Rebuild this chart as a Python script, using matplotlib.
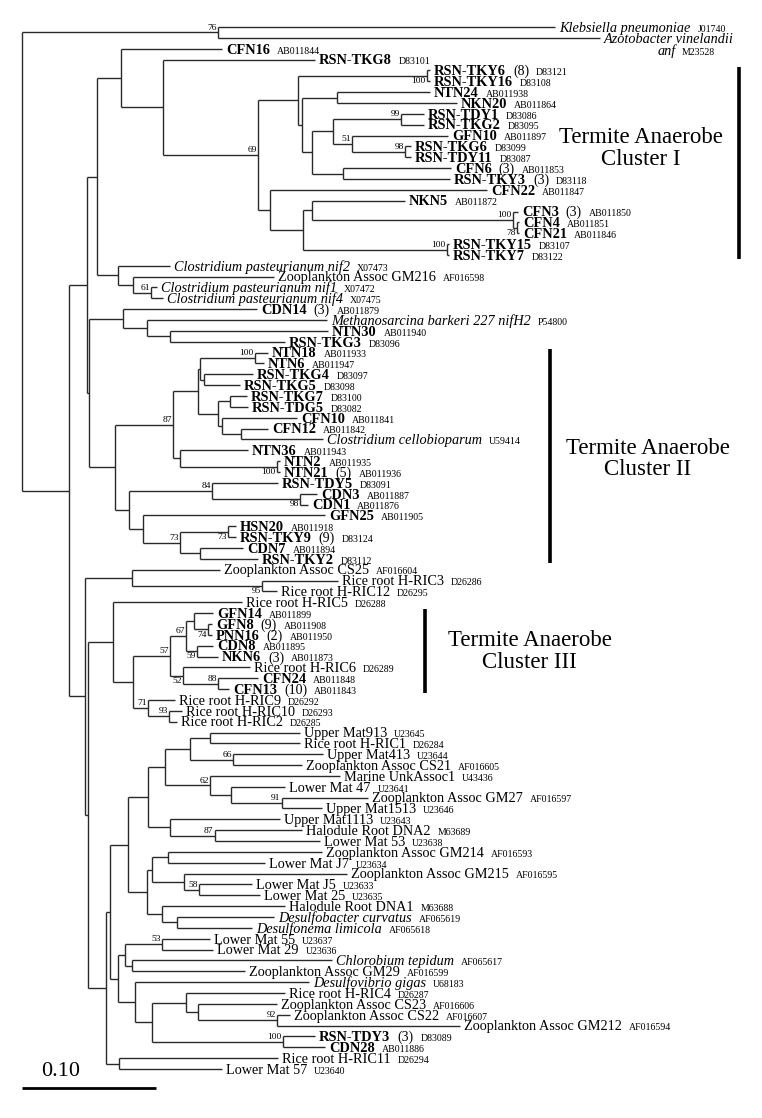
import matplotlib.pyplot as plt
from matplotlib.transforms import IdentityTransform

plt.rcParams['font.family'] = ['Liberation Serif', 'DejaVu Serif']

# ---------------- leaves (top to bottom) ----------------
leaf_names = [
    "Klebsiella pneumoniae", "Azotobacter vinelandii|anf", "CFN16", "RSN-TKG8",
    "RSN-TKY6", "RSN-TKY16", "NTN24", "NKN20", "RSN-TDY1", "RSN-TKG2", "GFN10",
    "RSN-TKG6", "RSN-TDY11", "CFN6", "RSN-TKY3", "CFN22", "NKN5", "CFN3", "CFN4",
    "CFN21", "RSN-TKY15", "RSN-TKY7", "Clostridium pasteurianum nif2",
    "Zooplankton Assoc GM216", "Clostridium pasteurianum nif1",
    "Clostridium pasteurianum nif4", "CDN14", "Methanosarcina barkeri 227 nifH2",
    "NTN30", "RSN-TKG3", "NTN18", "NTN6", "RSN-TKG4", "RSN-TKG5", "RSN-TKG7",
    "RSN-TDG5", "CFN10", "CFN12", "Clostridium cellobioparum", "NTN36", "NTN2",
    "NTN21", "RSN-TDY5", "CDN3", "CDN1", "GFN25", "HSN20", "RSN-TKY9", "CDN7",
    "RSN-TKY2", "Zooplankton Assoc CS25", "Rice root H-RIC3", "Rice root H-RIC12",
    "Rice root H-RIC5", "GFN14", "GFN8", "PNN16", "CDN8", "NKN6", "Rice root H-RIC6",
    "CFN24", "CFN13", "Rice root H-RIC9", "Rice root H-RIC10", "Rice root H-RIC2",
    "Upper Mat913", "Rice root H-RIC1", "Upper Mat413", "Zooplankton Assoc CS21",
    "Marine UnkAssoc1", "Lower Mat 47", "Zooplankton Assoc GM27", "Upper Mat1513",
    "Upper Mat1113", "Halodule Root DNA2", "Lower Mat 53", "Zooplankton Assoc GM214",
    "Lower Mat J7", "Zooplankton Assoc GM215", "Lower Mat J5", "Lower Mat 25",
    "Halodule Root DNA1", "Desulfobacter curvatus", "Desulfonema limicola",
    "Lower Mat 55", "Lower Mat 29", "Chlorobium tepidum", "Zooplankton Assoc GM29",
    "Desulfovibrio gigas", "Rice root H-RIC4", "Zooplankton Assoc CS23",
    "Zooplankton Assoc CS22", "Zooplankton Assoc GM212", "RSN-TDY3", "CDN28",
    "Rice root H-RIC11", "Lower Mat 57",
]
# b = bold clone, r = roman, i = italic species
leaf_kind = list(
    "iibb" "bbbbbbbbbbbbbbbbbb" "irii" "bibb" "bbbbbbbbi" "bbbbbbbbbbb"
    "rrrr" "bbbbb" "r" "bb" "rrr" "rrrrrrrrrrrrrrrrr" "iirririrrrr" "bb" "rr"
)
leaf_count = [
    "", "", "", "", "(8)", "", "", "", "", "", "", "", "", "(3)", "(3)", "", "",
    "(3)", "", "", "", "", "", "", "", "", "(3)", "", "", "", "", "", "", "", "",
    "", "", "", "", "", "", "(5)", "", "", "", "", "", "(9)", "", "", "", "", "",
    "", "", "(9)", "(2)", "", "(3)", "", "", "(10)", "", "", "", "", "", "", "",
    "", "", "", "", "", "", "", "", "", "", "", "", "", "", "", "", "", "", "",
    "", "", "", "", "", "(3)", "", "", "",
]
leaf_acc = [
    "J01740", "M23528", "AB011844", "D83101", "D83121", "D83108", "AB011938",
    "AB011864", "D83086", "D83095", "AB011897", "D83099", "D83087", "AB011853",
    "D83118", "AB011847", "AB011872", "AB011850", "AB011851", "AB011846", "D83107",
    "D83122", "X07473", "AF016598", "X07472", "X07475", "AB011879", "P54800",
    "AB011940", "D83096", "AB011933", "AB011947", "D83097", "D83098", "D83100",
    "D83082", "AB011841", "AB011842", "U59414", "AB011943", "AB011935", "AB011936",
    "D83091", "AB011887", "AB011876", "AB011905", "AB011918", "D83124", "AB011894",
    "D83112", "AF016604", "D26286", "D26295", "D26288", "AB011899", "AB011908",
    "AB011950", "AB011895", "AB011873", "D26289", "AB011848", "AB011843", "D26292",
    "D26293", "D26285", "U23645", "D26284", "U23644", "AF016605", "U43436",
    "U23641", "AF016597", "U23646", "U23643", "M63689", "U23638", "AF016593",
    "U23634", "AF016595", "U23633", "U23635", "M63688", "AF065619", "AF065618",
    "U23637", "U23636", "AF065617", "AF016599", "U68183", "D26287", "AF016606",
    "AF016607", "AF016594", "D83089", "AB011886", "D26294", "U23640",
]
leaf_parent = [
    "O", "O", "N121", "N163", "NTKY6", "NTKY6", "N337", "N337", "N401", "N401",
    "N352", "N405", "N405", "N343", "N343", "N270", "N312b", "N513", "N517", "N517",
    "N447", "N447", "N118", "N133", "N151", "N151", "N123", "N147", "N170", "N170",
    "N255", "N255", "N204", "N204", "N230", "N230", "N222", "N241", "N241", "N180",
    "N277", "N277", "N212", "N300", "N300", "N143", "N228", "N228", "N200b", "N200b",
    "N132", "N262", "N262", "N113", "N194", "N208", "N208", "N197", "N197", "N183",
    "N218b", "N218b", "N148", "N169", "N169", "N210b", "N210b", "N233", "N233",
    "N210", "N231", "N282", "N282", "N170c", "N215", "N215", "N168", "N168", "N184",
    "N199", "N199", "N162", "N177", "N177", "N162b", "N162b", "N132c", "N132c",
    "N135", "N186b", "N198b", "N277b", "N277b", "N283", "N283", "N119", "N119",
]
# distance from root (substitutions per site)
leaf_depth = [
    0.3978, 0.4313, 0.1493, 0.2187, 0.3045, 0.3045, 0.3045, 0.3246, 0.3000, 0.3000,
    0.3179, 0.2903, 0.2903, 0.3201, 0.3194, 0.3470, 0.2858, 0.3701, 0.3709, 0.3709,
    0.3187, 0.3187, 0.1104, 0.1881, 0.1007, 0.1052, 0.1754, 0.2276, 0.2284, 0.1963,
    0.1836, 0.1806, 0.1724, 0.1627, 0.1679, 0.1687, 0.2052, 0.1836, 0.2246, 0.1687,
    0.1925, 0.1925, 0.1910, 0.2201, 0.2134, 0.2261, 0.1597, 0.1597, 0.1649, 0.1761,
    0.1478, 0.2358, 0.1903, 0.1642, 0.1425, 0.1418, 0.1418, 0.1425, 0.1463, 0.1701,
    0.1761, 0.1545, 0.1142, 0.1194, 0.1157, 0.2075, 0.2075, 0.2246, 0.2090, 0.2373,
    0.1963, 0.2582, 0.2239, 0.1925, 0.2090, 0.2224, 0.2239, 0.1813, 0.2425, 0.1716,
    0.1776, 0.1963, 0.1881, 0.1716, 0.1403, 0.1425, 0.2313, 0.1664, 0.2142, 0.1963,
    0.1903, 0.2000, 0.3269, 0.2187, 0.2261, 0.1910, 0.1493,
]

# ---------------- internal nodes ----------------
node_ids = [
    "R", "O", "N69", "N87", "N97", "N121", "N163", "C1", "N298", "NTKY6", "N302",
    "N337", "N312", "N333", "N401", "N352", "N405", "N343", "N270", "N303", "N312b",
    "N513", "N517", "N447", "N118", "N133", "N151", "N89", "N123", "N147", "N170",
    "N115", "N173", "N198", "N200", "N255", "N204", "N218", "N230", "N222", "N241",
    "N180", "N277", "N129", "N212", "N300", "N143", "N180b", "N228", "N200b", "N85",
    "N132", "N262", "N88", "N113", "N133b", "N170b", "N186", "N194", "N208", "N197",
    "N183", "N218b", "N148", "N169", "N106", "N110", "N128", "N148c", "N165", "N190",
    "N210b", "N233", "N210", "N231", "N282", "N170c", "N215", "N147c", "N152",
    "N168", "N184", "N199", "N162", "N177", "N118c", "N125", "N162b", "N132c",
    "N135", "N152b", "N186b", "N198b", "N277b", "N283", "N119",
]
node_parent = [
    None, "R", "R", "N69", "N87", "N97", "N121", "N163", "C1", "N298", "N298",
    "N302", "N302", "N312", "N333", "N333", "N352", "N312", "C1", "N270", "N303",
    "N312b", "N513", "N303", "N97", "N118", "N133", "N87", "N89", "N123", "N147",
    "N89", "N115", "N173", "N198", "N200", "N200", "N198", "N218", "N218", "N222",
    "N173", "N180", "N115", "N129", "N212", "N129", "N143", "N180b", "N180b", "N69",
    "N85", "N132", "N85", "N88", "N113", "N133b", "N170b", "N186", "N194", "N186",
    "N170b", "N183", "N133b", "N148", "N88", "N106", "N110", "N128", "N148c", "N165",
    "N190", "N190", "N165", "N210", "N231", "N148c", "N170c", "N128", "N147c",
    "N152", "N152", "N184", "N147c", "N162", "N110", "N118c", "N125", "N125",
    "N118c", "N135", "N152b", "N186b", "N198b", "N152b", "N106",
]
node_depth = [
    0.0, 0.1463, 0.0351, 0.0485, 0.0560, 0.0739, 0.1052, 0.1761, 0.2060, 0.3022,
    0.2090, 0.2351, 0.2164, 0.2321, 0.2828, 0.2463, 0.2858, 0.2396, 0.1851, 0.2097,
    0.2164, 0.3664, 0.3694, 0.3172, 0.0716, 0.0828, 0.0963, 0.0500, 0.0754, 0.0933,
    0.1104, 0.0694, 0.1127, 0.1313, 0.1328, 0.1739, 0.1358, 0.1463, 0.1552, 0.1493,
    0.1634, 0.1179, 0.1903, 0.0799, 0.1418, 0.2075, 0.0903, 0.1179, 0.1537, 0.1328,
    0.0470, 0.0821, 0.1791, 0.0493, 0.0679, 0.0828, 0.1104, 0.1224, 0.1284, 0.1388,
    0.1306, 0.1201, 0.1463, 0.0940, 0.1097, 0.0627, 0.0657, 0.0791, 0.0940, 0.1067,
    0.1254, 0.1403, 0.1575, 0.1403, 0.1560, 0.1940, 0.1104, 0.1440, 0.0933, 0.0970,
    0.1090, 0.1209, 0.1321, 0.1045, 0.1157, 0.0716, 0.0769, 0.1045, 0.0821, 0.0843,
    0.0970, 0.1224, 0.1313, 0.1903, 0.1948, 0.0724,
]
# bootstrap values: node -> (value, above/below branch)
support_nodes = ["O", "C1", "NTKY6", "N401", "N352", "N405", "N513", "N517", "N447",
                 "N151", "N255", "N173", "N277", "N212", "N300", "N180b", "N228",
                 "N262", "N186", "N208", "N170b", "N197", "N183", "N218b", "N148",
                 "N169", "N233", "N210", "N282", "N215", "N199", "N162b", "N277b",
                 "N283"]
support_vals = [76, 69, 100, 99, 51, 98, 100, 78, 100, 61, 100, 87, 100, 84, 98, 73,
                73, 95, 67, 74, 57, 59, 52, 88, 71, 93, 66, 62, 91, 87, 58, 53, 92, 100]
support_side = list("aabaaaabaaaabababbab" "abbaaaaaaaaaaa")

# clusters: (first leaf, last leaf, title)
cluster_first = [4, 30, 54]
cluster_last = [21, 49, 61]
cluster_names = ["Termite Anaerobe\nCluster I", "Termite Anaerobe\nCluster II",
                 "Termite Anaerobe\nCluster III"]

# ---------------- build tree ----------------
parent = {}
depth = {}
children = {}
for nid, p, d in zip(node_ids, node_parent, node_depth):
    parent[nid] = p
    depth[nid] = d
for i, (p, d) in enumerate(zip(leaf_parent, leaf_depth)):
    parent["L%d" % i] = p
    depth["L%d" % i] = d
for n, p in parent.items():
    if p is not None:
        children.setdefault(p, []).append(n)

ypos = {"L%d" % i: float(i) for i in range(len(leaf_names))}


def get_y(n):
    if n not in ypos:
        ys = [get_y(c) for c in children[n]]
        ypos[n] = (min(ys) + max(ys)) / 2
    return ypos[n]


get_y("R")

# ---------------- plot ----------------
W, H = 762, 1118
PX_PER_UNIT = 1340.0   # 0.10 -> 134 px
ROOT_PX = 22
Y0_PX, DY_PX = 27, 10.854

fig = plt.figure(figsize=(W / 100, H / 100), dpi=100)
ax = fig.add_axes([0, 0, 1, 1])
ax.set_xlim(-ROOT_PX / PX_PER_UNIT, (W - ROOT_PX) / PX_PER_UNIT)
ax.set_ylim((H - Y0_PX) / DY_PX, -Y0_PX / DY_PX)
ax.axis("off")

lc = "#2a2a2a"
lw = 1.0
for n, p in parent.items():
    if p is None:
        continue
    ax.plot([depth[p], depth[n]], [ypos[n], ypos[n]], color=lc, lw=lw,
            solid_capstyle="butt")
for n, ch in children.items():
    ys = [ypos[c] for c in ch]
    ax.plot([depth[n], depth[n]], [min(ys), max(ys)], color=lc, lw=lw,
            solid_capstyle="butt")

# bootstrap values
for n, v, s in zip(support_nodes, support_vals, support_side):
    if s == "a":
        ax.text(depth[n] - 0.001, ypos[n] - 0.08, str(v), fontsize=6.8,
                ha="right", va="bottom")
    else:
        ax.text(depth[n] - 0.001, ypos[n] + 0.12, str(v), fontsize=6.8,
                ha="right", va="top")

# leaf labels
rend = fig.canvas.get_renderer()
style = {
    "b": dict(fontsize=10.4, fontweight="bold"),
    "r": dict(fontsize=10.3),
    "i": dict(fontsize=10.3, fontstyle="italic"),
}
count_kw = dict(fontsize=10)
acc_kw = dict(fontsize=7.1)


def put(xd, yd, txt, kw):
    t = ax.text(xd, yd, txt, transform=IdentityTransform(), ha="left",
                va="baseline", color="black", **kw)
    return t.get_window_extent(rend).x1


for i, name in enumerate(leaf_names):
    xd, yd = ax.transData.transform((leaf_depth[i], ypos["L%d" % i]))
    base = yd - 4.8
    first = name.split("|")[0]
    cur = put(xd + 4, base, first, style[leaf_kind[i]])
    if "|" in name:
        # second line of a two-line label
        cur2 = put(xd + 58, base - 12, name.split("|")[1], style[leaf_kind[i]])
        put(cur2 + 6, base - 12, leaf_acc[i], acc_kw)
        continue
    if leaf_count[i]:
        cur = put(cur + 7, base, leaf_count[i], count_kw)
    put(cur + 7, base, leaf_acc[i], acc_kw)

# cluster bars and titles
bar_x = [0.5351, 0.3940, 0.3007]
title_x = [0.4619, 0.4672, 0.3790]
title_dy = [-1.3, 0.3, 0.0]
for f, l, nm, bx, tx, dy in zip(cluster_first, cluster_last, cluster_names,
                                bar_x, title_x, title_dy):
    ax.plot([bx, bx], [f - 0.35, l + 0.35], color="black", lw=2.6,
            solid_capstyle="butt")
    ax.text(tx, (f + l) / 2 + dy, nm, fontsize=16.5, ha="center", va="center",
            linespacing=1.05)

# scale bar
sb_y = (1088 - Y0_PX) / DY_PX
ax.plot([0, 0.10], [sb_y, sb_y], color="black", lw=2.0, solid_capstyle="butt")
ax.text(0.029, sb_y - 0.6, "0.10", fontsize=16, ha="center", va="bottom")

fig.savefig("out.png", dpi=100)
